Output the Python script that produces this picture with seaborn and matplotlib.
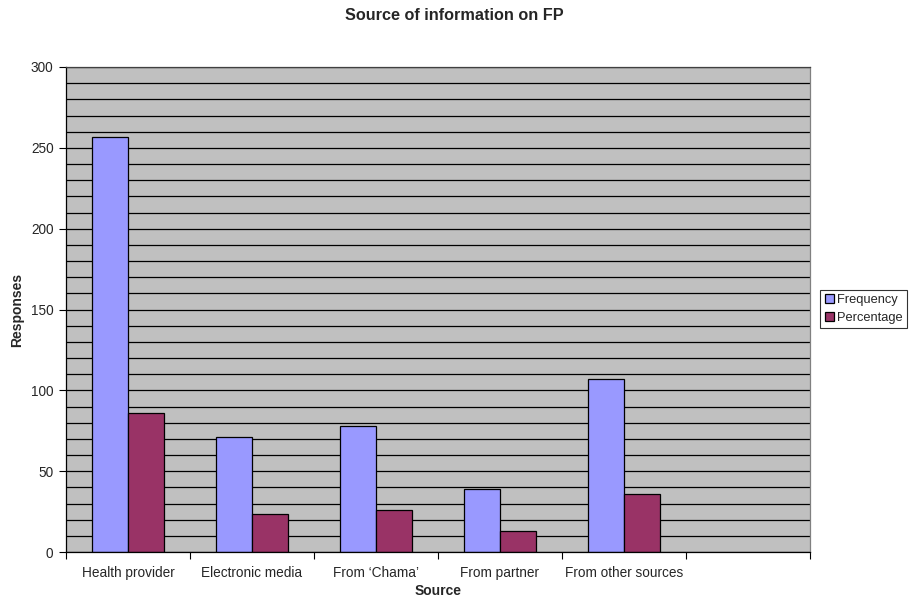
import matplotlib
matplotlib.use("Agg")
import matplotlib.pyplot as plt
import seaborn as sns
import pandas as pd
import numpy as np
from matplotlib.ticker import MultipleLocator, FixedLocator

sources = ["Health provider", "Electronic media", "From \u2018Chama\u2019", "From partner", "From other sources"]
frequency = [257, 71, 78, 39, 107]
percentage = [85.7, 23.7, 26.0, 13.0, 35.7]
series_names = ["Frequency", "Percentage"]
colors = ["#9999FF", "#993366"]

df = pd.DataFrame({
    "Source": sources * 2,
    "Value": frequency + percentage,
    "Series": [series_names[0]] * len(sources) + [series_names[1]] * len(sources),
})

sns.set_style("white")
plt.rcParams['font.family'] = ['Liberation Sans', 'DejaVu Sans']

fig = plt.figure(figsize=(9.09, 6.02), dpi=100)
ax = fig.add_axes([66/909, 50/602, (810-66)/909, (552-67)/602])
ax.set_facecolor("#C0C0C0")

sns.barplot(data=df, x="Source", y="Value", hue="Series", order=sources,
            hue_order=series_names, palette=colors, saturation=1, width=0.58,
            edgecolor="black", linewidth=0.9, ax=ax, legend=True, errorbar=None)

ax.set_xlim(-0.5, 5.5)
ax.set_ylim(0, 300)
ax.yaxis.set_major_locator(MultipleLocator(50))
ax.yaxis.set_minor_locator(MultipleLocator(10))
ax.grid(which="both", axis="y", color="black", linewidth=0.9)
ax.set_axisbelow(True)

ax.xaxis.set_minor_locator(FixedLocator(np.arange(-0.5, 6.0, 1.0)))
ax.tick_params(axis="x", which="major", length=0, labelsize=9.8, pad=10)
ax.tick_params(axis="x", which="minor", length=5, width=0.8, color="black", bottom=True)
ax.tick_params(axis="y", which="major", length=5, width=0.8, color="black", labelsize=9.8, left=True, pad=4)
ax.tick_params(axis="y", which="minor", length=0)

for s in ["left", "bottom"]:
    ax.spines[s].set_color("black")
    ax.spines[s].set_linewidth(0.9)
ax.spines["right"].set_color("#808080")
ax.spines["right"].set_linewidth(0.9)
ax.spines["top"].set_color("#404040")
ax.spines["top"].set_linewidth(0.9)

ax.set_xlabel("Source", fontsize=10, fontweight="bold", labelpad=3)
ax.set_ylabel("Responses", fontsize=10, fontweight="bold", labelpad=5)

fig.text(454/909, 1 - 15/602, "Source of information on FP",
         ha="center", va="center", fontsize=11.7, fontweight="bold")

handles, labels = ax.get_legend_handles_labels()
ax.get_legend().remove()
leg = fig.legend(handles, labels, loc="center left", bbox_to_anchor=(820/909, 1 - 309/602),
                 fontsize=9.3, frameon=True, fancybox=False, edgecolor="black",
                 handlelength=0.7, handleheight=0.7, handletextpad=0.25,
                 borderpad=0.35, labelspacing=0.4, borderaxespad=0)
leg.get_frame().set_linewidth(0.8)

fig.savefig("out.png", dpi=100)
